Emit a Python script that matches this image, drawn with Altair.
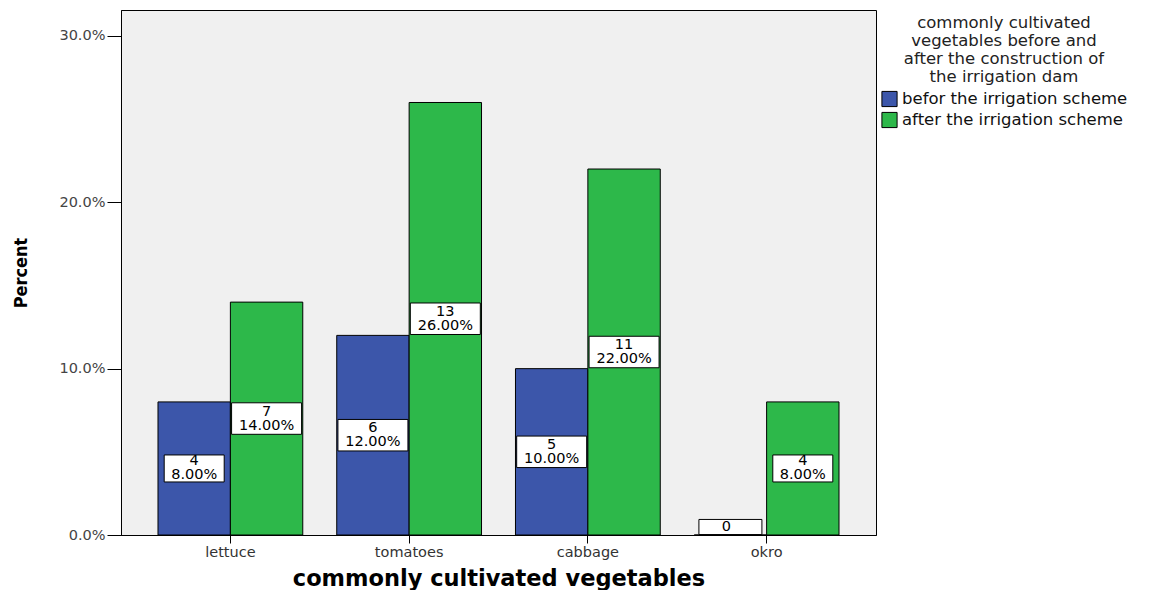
import altair as alt
import pandas as pd

categories = ["lettuce", "tomatoes", "cabbage", "okro"]
periods = ["befor the irrigation scheme", "after the irrigation scheme"]
before_counts = [4, 6, 5, 0]
after_counts = [7, 13, 11, 4]
before_pct = [8.0, 12.0, 10.0, 0.0]
after_pct = [14.0, 26.0, 22.0, 8.0]

rows = []
for i, c in enumerate(categories):
    for p, cnt, pct in ((periods[0], before_counts[i], before_pct[i]),
                        (periods[1], after_counts[i], after_pct[i])):
        pct_txt = f"{pct:.2f}%"
        rows.append({
            "veg": c, "period": p, "count": cnt, "value": pct / 100,
            "mid": pct / 200,
            "label": f"{cnt}\n{pct_txt}" if cnt > 0 else f"{cnt}",
            "boxsize": (10 * len(pct_txt) + 10) ** 2,
        })
df = pd.DataFrame(rows)

FONT = "DejaVu Sans"
xenc = alt.X("veg:N", sort=categories,
             scale=alt.Scale(paddingInner=0.19, paddingOuter=0.207),
             axis=alt.Axis(title="commonly cultivated vegetables", labelAngle=0,
                           labelFont=FONT, labelFontSize=14.5, labelColor="#333",
                           titleFont="DejaVu Sans", titleFontSize=22.5,
                           titleFontWeight="bold", titleColor="#000",
                           titlePadding=9, tickColor="#000", domainColor="#000",
                           tickSize=8, labelPadding=2))
xoff = alt.XOffset("period:N", sort=periods, scale=alt.Scale(paddingInner=0, paddingOuter=0))

bars = alt.Chart(df).mark_bar(stroke="black", strokeWidth=1, opacity=1).encode(
    x=xenc,
    xOffset=xoff,
    y=alt.Y("value:Q", scale=alt.Scale(domain=[0, 0.3156], nice=False),
            axis=alt.Axis(title="Percent", format=".1%", values=[0, 0.1, 0.2, 0.3],
                          grid=False, labelFont=FONT, labelFontSize=14.5,
                          labelColor="#444", titleFont="DejaVu Sans Condensed",
                          titleFontSize=18, titleFontWeight="bold", titleColor="#000",
                          titlePadding=28, tickColor="#000", domainColor="#000",
                          tickSize=14, labelPadding=2)),
    color=alt.Color("period:N", sort=periods,
                    scale=alt.Scale(domain=periods, range=["#3C56AA", "#2DB84A"]),
                    legend=alt.Legend(
                        title=["commonly cultivated", "vegetables before and",
                               "after the construction of", "the irrigation dam"],
                        orient="right", offset=0, padding=5, titleAnchor="middle",
                        titleAlign="center", titleFont=FONT, titleFontSize=16.5,
                        titleFontWeight="normal", titleColor="#222",
                        titleLineHeight=18, titlePadding=5, titleLimit=400,
                        labelFont=FONT, labelFontSize=16.5, labelColor="#111",
                        labelLimit=400,
                        symbolType="square", symbolSize=230,
                        symbolStrokeColor="black", symbolStrokeWidth=1,
                        symbolOpacity=1, rowPadding=0, labelOffset=4)),
)

nonzero = df[df["count"] > 0]
zero = df[df["count"] == 0]

boxes = alt.Chart(nonzero).mark_point(
    shape="M-1,-0.45L1,-0.45L1,0.45L-1,0.45Z", filled=True, fill="white",
    stroke="black", strokeWidth=1, opacity=1).encode(
    x=alt.X("veg:N", sort=categories), xOffset=xoff,
    y=alt.Y("mid:Q"), size=alt.Size("boxsize:Q", scale=None, legend=None))

texts = alt.Chart(nonzero).mark_text(
    font=FONT, fontSize=14.5, lineBreak="\n", baseline="middle", align="center",
    color="black", lineHeight=14, dy=-7).encode(
    x=alt.X("veg:N", sort=categories), xOffset=xoff,
    y=alt.Y("mid:Q"), text="label:N")

zbox = alt.Chart(zero).mark_point(
    shape="M-1,-0.24L1,-0.24L1,0.24L-1,0.24Z", filled=True, fill="white",
    stroke="black", strokeWidth=1, opacity=1, yOffset=-8, xOffset=-4, size=63 * 63).encode(
    x=alt.X("veg:N", sort=categories), xOffset=xoff, y=alt.Y("mid:Q"))

ztext = alt.Chart(zero).mark_text(
    font=FONT, fontSize=14.5, baseline="middle", align="center", color="black",
    dy=-8, dx=-4).encode(
    x=alt.X("veg:N", sort=categories), xOffset=xoff, y=alt.Y("mid:Q"), text="label:N")

chart = alt.layer(bars, boxes, texts, zbox, ztext).properties(
    width=755, height=525,
    autosize=alt.AutoSizeParams(type="none"),
    padding={"left": 121, "top": 10, "right": 285, "bottom": 55},
    background="white",
).configure_view(fill="#F0F0F0", stroke="black", strokeWidth=1)

chart.save("out.html", embed_options={"renderer": "svg", "actions": False})
